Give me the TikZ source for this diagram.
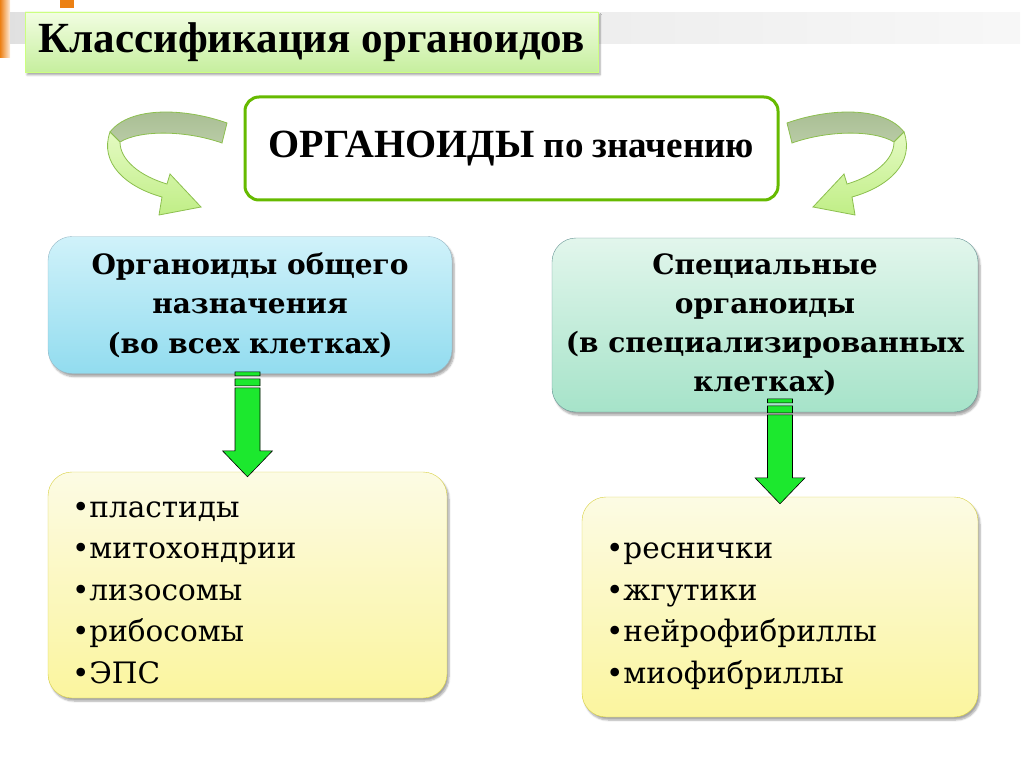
\documentclass[tikz,border=0pt]{standalone}
\usepackage{fontspec}
\setmainfont{Liberation Serif}
\newfontfamily\boxfont{DejaVu Serif}
\usetikzlibrary{calc,shadows.blur}

\definecolor{ribbonline}{HTML}{8CBF4E}
\definecolor{ribbonback}{HTML}{A6BC90}
\definecolor{ribbonbackb}{HTML}{B9CBA6}
\definecolor{ribbontop}{HTML}{E4FAC2}
\definecolor{ribbonbot}{HTML}{C0EE86}
\definecolor{arrowgreen}{HTML}{1CE82E}
\definecolor{titletop}{HTML}{F2FDE2}
\definecolor{titlebot}{HTML}{C6EF9E}
\definecolor{gentop}{HTML}{D0F2FA}
\definecolor{genbot}{HTML}{92DCEF}
\definecolor{spectop}{HTML}{E2F6EC}
\definecolor{specbot}{HTML}{A6E3C9}
\definecolor{listtop}{HTML}{FCFBE4}
\definecolor{listbot}{HTML}{FBF59E}

% ribbon arrow, drawn on the left; mirrored for the right side
\newcommand{\curlarrow}{%
  \draw[ribbonline, line width=0.8pt, top color=ribbonback, bottom color=ribbonbackb]
    (227,123) .. controls (185,108) and (130,106) .. (110,132)
    -- (120,142) .. controls (140,130) and (185,130) .. (222,143) -- cycle;
  \draw[ribbonline, line width=0.8pt, top color=ribbontop, bottom color=ribbonbot]
    (110,132) .. controls (99,163) and (126,187) .. (162,197)
    -- (159,215) -- (201,207) -- (170,174) -- (167,184)
    .. controls (140,176) and (120,160) .. (120,142) -- cycle;
}
\newcommand{\bararrow}[2]{%
  \draw[bararrowstyle] let \p1=(#1.north) in
    (\x1-12.5pt,\y1+105pt-#2) rectangle (\x1+12.5pt,\y1+101pt-#2)
    (\x1-12.5pt,\y1+98pt-#2) rectangle (\x1+12.5pt,\y1+91pt-#2)
    (\x1-12.5pt,\y1+89pt-#2) -- (\x1-12.5pt,\y1+26pt-#2) -- (\x1-25pt,\y1+26pt-#2) -- (\x1,\y1-#2)
    -- (\x1+25pt,\y1+26pt-#2) -- (\x1+12.5pt,\y1+26pt-#2) -- (\x1+12.5pt,\y1+89pt-#2) -- cycle;
}

\begin{document}
\begin{tikzpicture}[x=1pt, y=-1pt,
    shadowed/.style={blur shadow={shadow xshift=2pt, shadow yshift=-3pt, shadow opacity=35, shadow blur steps=6}},
    titlebox/.style={shadowed, draw=green!40!yellow!50, top color=titletop, bottom color=titlebot,
      minimum width=573pt, minimum height=60pt, font=\bfseries\fontsize{43}{48}\selectfont},
    mainbox/.style={draw=green!55!black!60!yellow, line width=3pt, fill=white, rounded corners=14pt,
      minimum width=533pt, minimum height=103pt, font=\bfseries\fontsize{37}{42}\selectfont},
    midbox/.style={shadowed, rounded corners=24pt, align=center, inner sep=0pt},
    listbox/.style={shadowed, rounded corners=24pt, draw=yellow!50!olive!70, top color=listtop, bottom color=listbot,
      align=left, inner xsep=24pt, font=\boxfont\fontsize{29.5}{41.5}\selectfont},
    bararrowstyle/.style={draw=black, line width=0.6pt, fill=arrowgreen}]
  \useasboundingbox (0,0) rectangle (1024,767);

  % slide decoration
  \shade[left color=orange!70!brown, right color=orange!15] (0,0) rectangle (10,58);
  \fill[orange!70!brown] (60,0) rectangle (74,8);
  \shade[left color=black!12, right color=black!3] (10,13) rectangle (1020,44);

  \node[titlebox] (title) at (311.5,42) {Классификация органоидов};

  \node[mainbox] (main) at (511.5,148.5) {{\fontsize{40}{46}\selectfont ОРГАНОИДЫ} по значению};

  \curlarrow
  \begin{scope}[xshift=1014pt, xscale=-1]
    \curlarrow
  \end{scope}

  \node[midbox, draw=cyan!50!black!50, top color=gentop, bottom color=genbot,
    minimum width=404pt, minimum height=137pt, font=\boxfont\bfseries\fontsize{28}{39.5}\selectfont] (general) at (250,305)
    {Органоиды общего\\назначения\\(во всех клетках)};
  \node[midbox, draw=teal!60!black!60, top color=spectop, bottom color=specbot,
    minimum width=426pt, minimum height=174pt, font=\boxfont\bfseries\fontsize{28}{39}\selectfont] (special) at (765,325)
    {Специальные\\органоиды\\(в специализированных\\клетках)};

  \node[listbox, minimum height=226pt, text width=351pt] (genlist) at (247.5,585)
    {\raisebox{0pt}[31pt][0pt]{}•пластиды\\•митохондрии\\•лизосомы\\•рибосомы\\•ЭПС};
  \node[listbox, minimum height=220pt, text width=348pt] (speclist) at (780,607)
    {\raisebox{0pt}[34pt][0pt]{}•реснички\\•жгутики\\•нейрофибриллы\\•миофибриллы};

  \bararrow{genlist}{5pt}
  \bararrow{speclist}{7pt}
\end{tikzpicture}
\end{document}
